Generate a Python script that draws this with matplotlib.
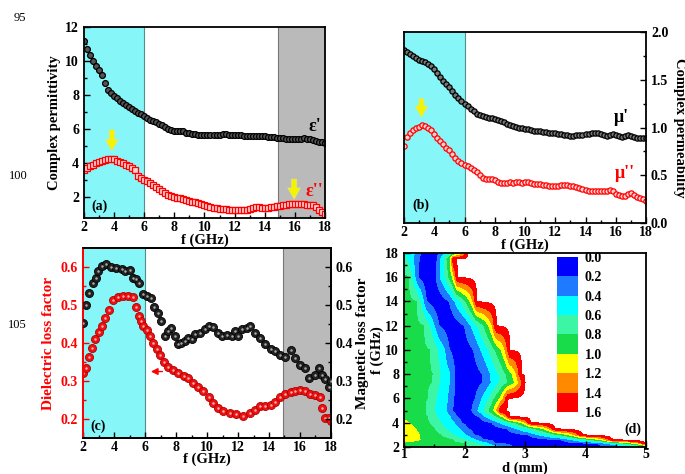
import numpy as np
import matplotlib.pyplot as plt

plt.rcParams['font.family'] = ['Liberation Serif', 'DejaVu Serif']
plt.rcParams['font.weight'] = 'bold'
plt.rcParams['axes.labelweight'] = 'bold'
plt.rcParams['mathtext.default'] = 'regular'

# ---- (a), (b): complex permittivity / permeability, 2-18 GHz every 0.2 GHz
freq = np.round(np.arange(2.0, 18.01, 0.2), 1)

eps_re = [11.15, 10.7, 10.35, 10.0, 9.7, 9.45, 9.2, 8.7, 8.3, 8.1,
          7.95, 7.8, 7.65, 7.5, 7.4, 7.28, 7.15, 7.05, 6.95, 6.85,
          6.75, 6.65, 6.55, 6.48, 6.4, 6.3, 6.2, 6.1, 5.98, 5.93,
          5.9, 5.9, 5.88, 5.85, 5.78, 5.74, 5.7, 5.68, 5.66, 5.65,
          5.64, 5.63, 5.62, 5.62, 5.63, 5.66, 5.68, 5.67, 5.65, 5.64,
          5.64, 5.65, 5.63, 5.6, 5.59, 5.58, 5.57, 5.58, 5.57, 5.55,
          5.55, 5.54, 5.52, 5.5, 5.49, 5.47, 5.45, 5.43, 5.42, 5.43,
          5.42, 5.4, 5.43, 5.45, 5.42, 5.38, 5.33, 5.28, 5.25, 5.22,
          5.18]
eps_im = [3.6, 3.7, 3.8, 3.9, 3.98, 4.05, 4.12, 4.17, 4.2, 4.22,
          4.2, 4.12, 4.05, 3.98, 3.9, 3.82, 3.72, 3.55, 3.25, 3.1,
          3.0, 2.9, 2.8, 2.68, 2.58, 2.48, 2.35, 2.22, 2.1, 2.02,
          1.97, 1.93, 1.9, 1.88, 1.83, 1.78, 1.72, 1.67, 1.62, 1.57,
          1.52, 1.46, 1.4, 1.36, 1.33, 1.3, 1.27, 1.26, 1.25, 1.24,
          1.23, 1.22, 1.22, 1.23, 1.25, 1.28, 1.33, 1.4, 1.38, 1.35,
          1.33, 1.34, 1.38, 1.42, 1.45, 1.48, 1.5, 1.52, 1.55, 1.56,
          1.57, 1.57, 1.56, 1.55, 1.54, 1.52, 1.5, 1.42, 1.22, 1.1,
          1.0]
mu_re = [1.81, 1.79, 1.77, 1.75, 1.73, 1.71, 1.70, 1.69, 1.67, 1.64,
         1.61, 1.57, 1.53, 1.49, 1.46, 1.42, 1.38, 1.34, 1.31, 1.28,
         1.25, 1.22, 1.19, 1.17, 1.14, 1.13, 1.12, 1.11, 1.10, 1.10,
         1.09, 1.08, 1.07, 1.06, 1.04, 1.03, 1.02, 1.01, 1.00, 0.99,
         0.985, 0.98, 0.97, 0.965, 0.96, 0.96, 0.955, 0.95, 0.945, 0.94,
         0.94, 0.935, 0.93, 0.925, 0.92, 0.915, 0.915, 0.92, 0.92, 0.925,
         0.93, 0.935, 0.94, 0.945, 0.94, 0.93, 0.92, 0.915, 0.92, 0.93,
         0.92, 0.91, 0.905, 0.91, 0.92, 0.91, 0.90, 0.895, 0.89, 0.89,
         0.89]
mu_im = [0.81, 0.9, 0.94, 0.97, 0.99, 1.01, 1.03, 1.02, 1.0, 0.97,
         0.93, 0.89, 0.86, 0.83, 0.79, 0.76, 0.72, 0.68, 0.65, 0.63,
         0.61, 0.6, 0.58, 0.56, 0.53, 0.5, 0.47, 0.46, 0.46, 0.46,
         0.45, 0.43, 0.42, 0.42, 0.42, 0.43, 0.42, 0.43, 0.43, 0.42,
         0.43, 0.43, 0.42, 0.41, 0.41, 0.41, 0.4, 0.4, 0.39, 0.39,
         0.39, 0.39, 0.4, 0.4, 0.4, 0.39, 0.39, 0.38, 0.37, 0.36,
         0.35, 0.34, 0.34, 0.34, 0.33, 0.33, 0.33, 0.34, 0.35, 0.33,
         0.3, 0.29, 0.28, 0.28, 0.3, 0.31, 0.29, 0.27, 0.26, 0.25,
         0.23]

# ---- (c): loss factors (read point by point)
f_diel = [2.0, 2.17, 2.4, 2.6, 2.8, 3.0, 3.25, 3.45, 3.7, 3.95,
          4.26, 4.6, 4.9, 5.2, 5.45, 5.6, 5.77, 5.9, 6.1, 6.3,
          6.5, 6.75, 6.96, 7.2, 7.5, 7.8, 8.1, 8.5, 8.8, 9.1,
          9.4, 9.75, 10.1, 10.4, 10.7, 11.05, 11.5, 11.9, 12.35, 12.8,
          13.1, 13.4, 13.75, 14.1, 14.4, 14.7, 15.05, 15.4, 15.7, 16.0,
          16.3, 16.65, 17.0, 17.3, 17.4, 17.6, 17.85, 18.0]
diel = [0.32, 0.335, 0.364, 0.387, 0.41, 0.428, 0.444, 0.465, 0.486, 0.513,
        0.52, 0.524, 0.524, 0.52, 0.495, 0.47, 0.458, 0.444, 0.435, 0.418,
        0.40, 0.385, 0.368, 0.35, 0.336, 0.33, 0.32, 0.313, 0.307, 0.296,
        0.284, 0.275, 0.258, 0.241, 0.229, 0.22, 0.216, 0.212, 0.209, 0.216,
        0.224, 0.235, 0.233, 0.237, 0.245, 0.258, 0.267, 0.271, 0.275, 0.277,
        0.275, 0.267, 0.262, 0.258, 0.229, 0.203, 0.203, 0.195]
f_mag = [2.0, 2.2, 2.4, 2.65, 2.86, 2.97, 3.2, 3.5, 3.8, 4.15,
         4.5, 4.7, 5.0, 5.2, 5.45, 5.6, 5.85, 6.1, 6.4, 6.6,
         6.85, 7.06, 7.3, 7.5, 7.7, 7.95, 8.15, 8.35, 8.6, 8.8,
         9.0, 9.2, 9.55, 9.9, 10.1, 10.4, 10.7, 10.95, 11.3, 11.6,
         11.8, 12.0, 12.25, 12.55, 12.8, 13.1, 13.4, 13.75, 14.1, 14.4,
         14.7, 15.05, 15.4, 15.7, 16.0, 16.3, 16.6, 16.95, 17.2, 17.4,
         17.6, 17.85, 18.0]
mag = [0.452, 0.5, 0.532, 0.558, 0.57, 0.59, 0.604, 0.608, 0.6, 0.597,
       0.596, 0.589, 0.592, 0.572, 0.569, 0.558, 0.53, 0.524, 0.518, 0.495,
       0.478, 0.457, 0.419, 0.431, 0.44, 0.418, 0.397, 0.4, 0.405, 0.414,
       0.41, 0.423, 0.427, 0.436, 0.444, 0.442, 0.427, 0.418, 0.42, 0.418,
       0.431, 0.418, 0.436, 0.44, 0.444, 0.427, 0.414, 0.397, 0.385, 0.378,
       0.368, 0.364, 0.381, 0.36, 0.343, 0.334, 0.309, 0.317, 0.334, 0.317,
       0.305, 0.284, 0.3]

# ---- (d): contour map, thickness where each level is crossed for each frequency row
f_rows = [2.0, 2.3, 2.6, 3.0, 3.5, 4.0, 4.5, 5.0, 6.0, 7.3, 8.0, 10.0, 12.0, 14.0, 16.0, 17.5, 18.0]
z_at_1mm = [0.9, 0.95, 1.1, 1.15, 1.12, 1.05, 0.95, 0.9, 0.9, 0.92, 0.92, 0.9, 0.88, 0.86, 0.83, 0.62, 0.55]
left08 = [2.2, 2.0, 1.8, 1.6, 1.5, 1.42, 1.38, 1.35, 1.38, 1.45, 1.47, 1.42, 1.32, 1.2, 1.07, 0.98, 0.98]
left06 = [2.4, 2.2, 2.0, 1.8, 1.68, 1.6, 1.55, 1.5, 1.53, 1.58, 1.6, 1.55, 1.42, 1.27, 1.13, 1.04, 1.06]
left04 = [2.62, 2.38, 2.17, 2.02, 1.92, 1.83, 1.76, 1.7, 1.72, 1.75, 1.76, 1.67, 1.5, 1.32, 1.18, 1.15, 1.17]
left02 = [2.8, 2.5, 2.3, 2.15, 2.05, 1.95, 1.87, 1.8, 1.82, 1.84, 1.84, 1.75, 1.58, 1.37, 1.23, 1.25, 1.27]
right02 = [4.6, 4.2, 3.6, 3.05, 2.7, 2.45, 2.25, 2.12, 2.18, 2.3, 2.3, 2.15, 2.0, 1.75, 1.53, 1.55, 1.6]
right04 = [4.88, 4.36, 3.77, 3.23, 2.86, 2.58, 2.35, 2.22, 2.29, 2.44, 2.43, 2.27, 2.11, 1.84, 1.6, 1.6, 1.69]
right06 = [5.19, 4.54, 3.96, 3.43, 3.04, 2.72, 2.46, 2.32, 2.41, 2.59, 2.57, 2.4, 2.22, 1.94, 1.68, 1.66, 1.79]
right08 = [5.44, 4.68, 4.11, 3.59, 3.18, 2.84, 2.55, 2.41, 2.5, 2.72, 2.69, 2.51, 2.32, 2.02, 1.74, 1.71, 1.87]
right10 = [5.66, 4.81, 4.25, 3.73, 3.31, 2.94, 2.63, 2.48, 2.59, 2.83, 2.79, 2.61, 2.4, 2.09, 1.8, 1.76, 1.94]
right12 = [5.8, 4.89, 4.33, 3.82, 3.39, 3.01, 2.68, 2.53, 2.64, 2.9, 2.86, 2.67, 2.46, 2.14, 1.83, 1.78, 1.99]
right14 = [5.9, 4.94, 4.39, 3.89, 3.44, 3.05, 2.71, 2.57, 2.68, 2.95, 2.9, 2.71, 2.49, 2.17, 1.86, 1.8, 2.02]
right16 = [6.0, 5.0, 4.45, 3.95, 3.5, 3.1, 2.75, 2.6, 2.72, 3.0, 2.95, 2.75, 2.53, 2.2, 1.88, 1.82, 2.05]
levels = [0.0, 0.2, 0.4, 0.6, 0.8, 1.0, 1.2, 1.4, 1.6]
level_colors = ['#0000ff', '#1e7bff', '#00ffff', '#3cf5a5', '#18dc4a',
                '#ffff00', '#ff8a00', '#ff0000']

cyan = '#86f6f8'
grey = '#bababa'

fig = plt.figure(figsize=(6.85, 4.74), dpi=100)


def setup(ax):
    ax.tick_params(which='both', direction='in', labelsize=10, width=1)
    ax.tick_params(which='major', length=4)
    ax.tick_params(which='minor', length=2)
    ax.tick_params(axis='x', pad=2)
    for s in ax.spines.values():
        s.set_linewidth(1.3)


def add_arrow(ax, x, y0, y1, color='#f4f400'):
    ax.annotate('', xy=(x, y1), xytext=(x, y0),
                arrowprops=dict(arrowstyle='simple,head_width=0.9,head_length=0.8,tail_width=0.35',
                                fc=color, ec='#e8e870', lw=0.5))


# (a)
axA = fig.add_axes([0.1226, 0.5401, 0.3518, 0.4030])
axA.axvspan(2, 6, color=cyan, zorder=0, lw=0)
axA.axvline(6, color='#4f8f8f', lw=0.8, zorder=0)
axA.axvspan(14.9, 18, color=grey, zorder=0, lw=0)
axA.axvline(14.9, color='#777777', lw=0.8, zorder=0)
axA.plot(freq, eps_re, 'o', ms=4.2, mfc='#555555', mec='black', mew=0.9)
axA.plot(freq, eps_im, 's', ms=3.8, mfc='#ffd0d0', mec='red', mew=0.9)
axA.set_xlim(2, 18)
axA.set_ylim(0.75, 12)
axA.set_xticks(range(2, 19, 2))
axA.set_xticks(range(3, 18, 2), minor=True)
axA.set_yticks(range(2, 13, 2))
axA.set_yticks(range(3, 12, 2), minor=True)
setup(axA)
axA.set_xlabel('f (GHz)', fontsize=10.5, labelpad=0)
axA.set_ylabel('Complex permittivity', fontsize=10.5, labelpad=3)
axA.text(17.3, 6.15, "ε'", fontsize=13, ha='center', va='center')
axA.text(17.3, 2.3, "ε''", fontsize=13, color='red', ha='center', va='center')
axA.text(3.0, 1.45, '(a)', fontsize=10, ha='center', va='center')
add_arrow(axA, 3.85, 6.1, 4.55)
add_arrow(axA, 15.95, 3.2, 1.7)

# (b)
axB = fig.add_axes([0.5898, 0.5295, 0.3533, 0.4030])
axB.axvspan(2, 6, color=cyan, zorder=0, lw=0)
axB.axvline(6, color='#4f8f8f', lw=0.8, zorder=0)
axB.plot(freq, mu_re, 'o', ms=3.8, mfc='#777777', mec='black', mew=0.9)
axB.plot(freq, mu_im, 'o', ms=3.8, mfc='#ffd0d0', mec='red', mew=0.9)
axB.set_xlim(2, 18)
axB.set_ylim(0, 2.0)
axB.set_xticks(range(2, 19, 2))
axB.set_xticks(range(3, 18, 2), minor=True)
axB.set_yticks([0.0, 0.5, 1.0, 1.5, 2.0])
axB.set_yticks([0.25, 0.75, 1.25, 1.75], minor=True)
axB.yaxis.tick_right()
axB.yaxis.set_label_position('right')
setup(axB)
axB.tick_params(which='both', left=False)
axB.set_xlabel('f (GHz)', fontsize=10.5, labelpad=0)
axB.set_ylabel('Complex permeability', fontsize=10.5, rotation=-90, labelpad=13)
axB.text(16.4, 1.1, "μ'", fontsize=13, ha='center', va='center')
axB.text(16.6, 0.52, "μ''", fontsize=13, color='red', ha='center', va='center')
axB.text(3.1, 0.19, '(b)', fontsize=10, ha='center', va='center')
add_arrow(axB, 3.15, 1.33, 1.08)

# (c)
axC = fig.add_axes([0.1212, 0.0759, 0.3620, 0.4008])
axC.axvspan(2, 6, color=cyan, zorder=0, lw=0)
axC.axvline(6, color='#4f8f8f', lw=0.8, zorder=0)
axC.axvspan(14.9, 18, color=grey, zorder=0, lw=0)
axC.axvline(14.9, color='#777777', lw=0.8, zorder=0)
axC.plot(f_diel, diel, 'o', ms=5.8, mfc='#ee1111', mec='#b00000', mew=0.6, zorder=3)
axC.plot(f_diel, diel, 'o', ms=1.8, mfc='#ffb0b0', mec='none', zorder=4)
axC.set_xlim(2, 18)
axC.set_ylim(0.15, 0.65)
axC.set_xticks(range(2, 19, 2))
axC.set_xticks(range(3, 18, 2), minor=True)
axC.set_yticks([0.2, 0.3, 0.4, 0.5, 0.6])
axC.set_yticks([0.25, 0.35, 0.45, 0.55], minor=True)
setup(axC)
axC.tick_params(axis='y', which='both', colors='red', right=False)
axC.spines['left'].set_color('red')
axC.set_xlabel('f (GHz)', fontsize=10.5, labelpad=-1)
axC.set_ylabel('Dielectric loss factor', fontsize=11, color='red', labelpad=4)
axC.text(3.0, 0.182, '(c)', fontsize=10, ha='center', va='center')
axC.annotate('', xy=(6.2, 0.325), xytext=(7.3, 0.325),
             arrowprops=dict(arrowstyle='-|>,head_width=0.2,head_length=0.4', color='red', lw=1.0))

axC2 = axC.twinx()
axC2.plot(f_mag, mag, 'o', ms=5.8, mfc='#222222', mec='black', mew=0.6, zorder=3)
axC2.plot(f_mag, mag, 'o', ms=1.8, mfc='#aaaaaa', mec='none', zorder=4)
axC2.set_ylim(0.15, 0.65)
axC2.set_yticks([0.2, 0.3, 0.4, 0.5, 0.6])
axC2.set_yticks([0.25, 0.35, 0.45, 0.55], minor=True)
setup(axC2)
axC2.spines['left'].set_color('red')
axC2.set_ylabel('Magnetic loss factor', fontsize=11, labelpad=2)

# (d)
axD = fig.add_axes([0.5898, 0.0570, 0.3533, 0.4093])
d_grid = np.linspace(1.0, 5.0, 801)
Z = []
for i in range(len(f_rows)):
    lefts = [left08[i], left06[i], left04[i], left02[i]]
    rights = [right02[i], right04[i], right06[i], right08[i],
              right10[i], right12[i], right14[i], right16[i]]
    mid = 0.5 * (left02[i] + right02[i])
    xs = [1.0]
    zs = [z_at_1mm[i]]
    for x, z in zip(lefts, [0.8, 0.6, 0.4, 0.2]):
        if x > 1.0:
            xs.append(x)
            zs.append(z)
    xs += [mid] + rights + [6.5]
    zs += [0.05, 0.2, 0.4, 0.6, 0.8, 1.0, 1.2, 1.4, 1.6, 2.5]
    Z.append(np.interp(d_grid, xs, zs))
Z = np.array(Z)
cf = axD.contourf(d_grid, f_rows, Z, levels=levels, colors=level_colors)
axD.set_xlim(1, 5)
axD.set_ylim(2, 18)
axD.set_xticks([1, 2, 3, 4, 5])
axD.set_xticks([1.5, 2.5, 3.5, 4.5], minor=True)
axD.set_yticks(range(2, 19, 2))
axD.set_yticks(range(3, 18, 2), minor=True)
setup(axD)
axD.tick_params(axis='x', pad=1)
axD.set_xlabel('d (mm)', fontsize=10.5, labelpad=0)
axD.set_ylabel('f (GHz)', fontsize=10.5, labelpad=1)
axD.text(4.78, 3.5, '(d)', fontsize=10, ha='center', va='center')
cax = axD.inset_axes([0.632, 0.18, 0.087, 0.80])
cb = fig.colorbar(cf, cax=cax, ticks=levels)
cb.outline.set_visible(False)
cax.invert_yaxis()
cax.tick_params(length=0, labelsize=10, pad=5)
cax.set_yticklabels(['%.1f' % v for v in levels])

# line numbers in the page margin
fig.text(20 / 685, 1 - 18 / 474, '95', fontsize=9, fontweight='normal', ha='center', va='center')
fig.text(18 / 685, 1 - 176 / 474, '100', fontsize=9, fontweight='normal', ha='center', va='center')
fig.text(17 / 685, 1 - 325 / 474, '105', fontsize=9, fontweight='normal', ha='center', va='center')

fig.savefig('out.png', dpi=100)
